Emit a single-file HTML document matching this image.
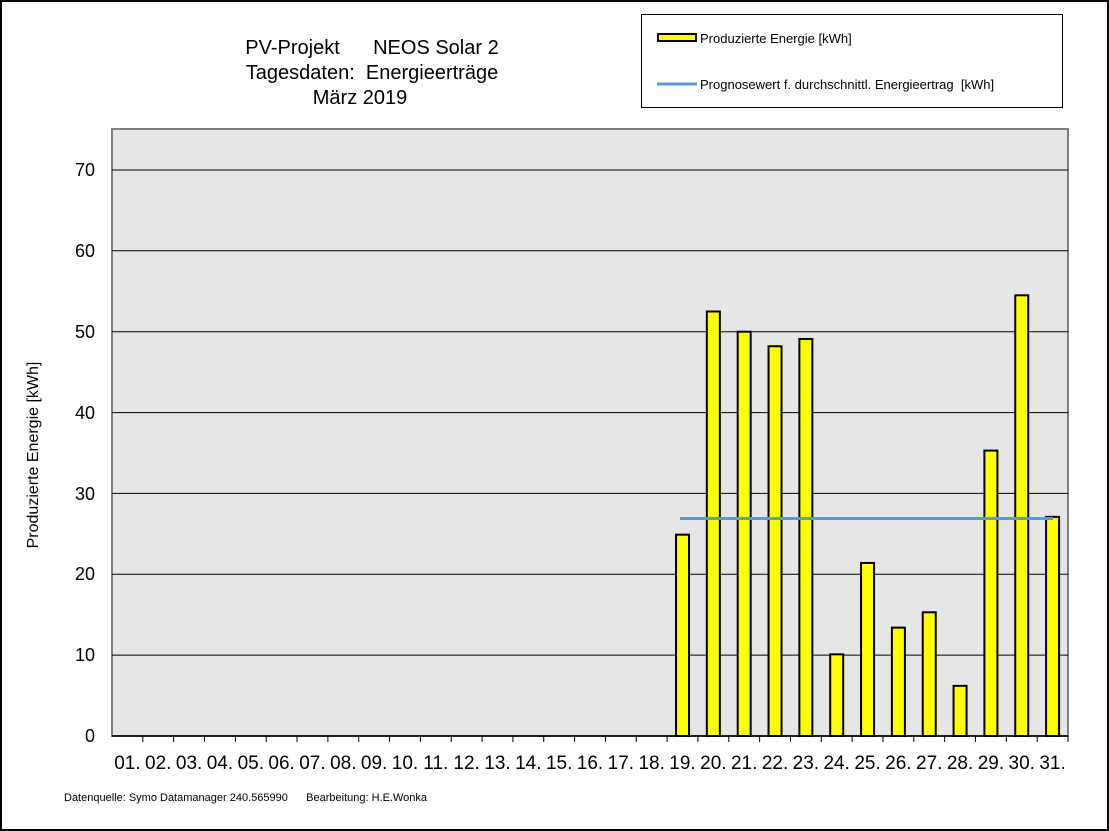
<!DOCTYPE html>
<html><head><meta charset="utf-8"><style>
html,body{margin:0;padding:0;background:#fff}
svg{display:block;font-family:"Liberation Sans",Arial,sans-serif}
text{white-space:pre}
</style></head><body>
<svg width="1109" height="831" viewBox="0 0 1109 831" xmlns="http://www.w3.org/2000/svg">
<rect x="1" y="1" width="1107" height="829" fill="#fff" stroke="#000" stroke-width="2"/>
<g font-size="20" text-anchor="middle" fill="#000">
<text x="372" y="54">PV-Projekt      NEOS Solar 2</text>
<text x="372" y="79">Tagesdaten:  Energieerträge</text>
<text x="360" y="104">März 2019</text>
</g>
<rect x="641.5" y="14.5" width="421" height="93" fill="#fff" stroke="#000"/>
<rect x="658" y="34" width="38" height="7" fill="#ff0" stroke="#000" stroke-width="2"/>
<text x="700" y="43" font-size="13">Produzierte Energie [kWh]</text>
<line x1="657" y1="84" x2="697" y2="84" stroke="#5b9bd5" stroke-width="3"/>
<text x="700" y="89" font-size="13">Prognosewert f. durchschnittl. Energieertrag  [kWh]</text>
<rect x="112" y="129" width="956" height="607" fill="#e6e6e6" stroke="#808080" stroke-width="2"/>
<g stroke="#000" stroke-width="1">
<line x1="112" y1="655.1" x2="1068" y2="655.1"/>
<line x1="112" y1="574.3" x2="1068" y2="574.3"/>
<line x1="112" y1="493.4" x2="1068" y2="493.4"/>
<line x1="112" y1="412.6" x2="1068" y2="412.6"/>
<line x1="112" y1="331.7" x2="1068" y2="331.7"/>
<line x1="112" y1="250.8" x2="1068" y2="250.8"/>
<line x1="112" y1="170" x2="1068" y2="170"/>
</g>
<g font-size="18" text-anchor="end">
<text x="95" y="742">0</text><text x="95" y="661">10</text><text x="95" y="580">20</text><text x="95" y="500">30</text><text x="95" y="419">40</text><text x="95" y="338">50</text><text x="95" y="257">60</text><text x="95" y="176">70</text>
</g>
<text transform="translate(38,455) rotate(-90)" font-size="16" text-anchor="middle">Produzierte Energie [kWh]</text>
<g id="bars" fill="#ff0" stroke="#000" stroke-width="2"></g>
<line x1="680" y1="518.5" x2="1053" y2="518.5" stroke="#5b9bd5" stroke-width="3"/>
<line x1="112" y1="736" x2="1068" y2="736" stroke="#000" stroke-width="1.5"/>
<g id="ticks" stroke="#000" stroke-width="1"></g>
<g id="labels" font-size="19" text-anchor="middle"></g>
<text x="64" y="801" font-size="11">Datenquelle: Symo Datamanager 240.565990      Bearbeitung: H.E.Wonka</text>
<script>
var w=956/31,ns="http://www.w3.org/2000/svg";
var vals={19:24.9,20:52.5,21:50,22:48.2,23:49.1,24:10.1,25:21.4,26:13.4,27:15.3,28:6.2,29:35.3,30:54.5,31:27.1};
var b=document.getElementById('bars'),t=document.getElementById('ticks'),l=document.getElementById('labels');
for(var d=1;d<=31;d++){
 var c=112+(d-0.5)*w;
 if(vals[d]){var h=vals[d]*8.086,r=document.createElementNS(ns,'rect');
  r.setAttribute('x',c-6.5);r.setAttribute('y',736-h);r.setAttribute('width',13);r.setAttribute('height',h);b.appendChild(r);}
 var x=112+d*w,ln=document.createElementNS(ns,'line');
 ln.setAttribute('x1',x);ln.setAttribute('x2',x);ln.setAttribute('y1',736);ln.setAttribute('y2',742);t.appendChild(ln);
 var tx=document.createElementNS(ns,'text');tx.setAttribute('x',c);tx.setAttribute('y',769);
 tx.textContent=(d<10?'0':'')+d+'.';l.appendChild(tx);
}
</script>
</svg>
</body></html>
